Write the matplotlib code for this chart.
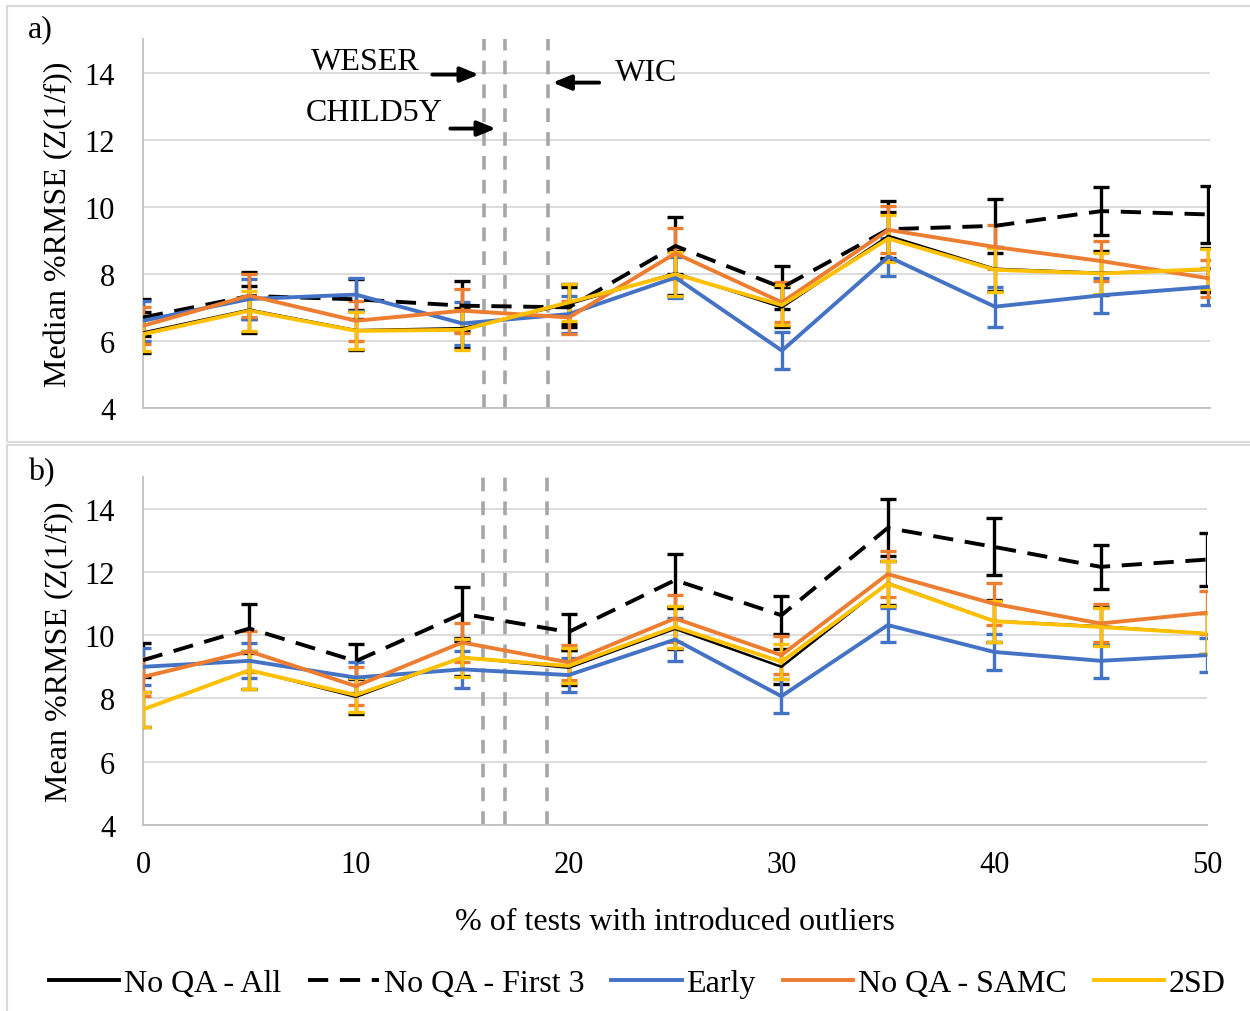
import matplotlib
matplotlib.use("Agg")
import matplotlib.pyplot as plt
from matplotlib.patches import Rectangle

plt.rcParams['font.family'] = ['Liberation Serif', 'DejaVu Serif']

outliers = [0, 5, 10, 15, 20, 25, 30, 35, 40, 45, 50]
series_names = ["No QA - All", "No QA - First 3", "Early", "No QA - SAMC", "2SD"]

# panel a: median %RMSE
med_all = [6.25, 6.93, 6.32, 6.38, 7.10, 8.02, 7.00, 9.13, 8.15, 8.03, 8.12]
med_all_err = [0.6, 0.7, 0.6, 0.6, 0.6, 0.65, 0.6, 0.7, 0.65, 0.65, 0.65]
med_first3 = [6.70, 7.34, 7.24, 7.05, 7.00, 8.83, 7.59, 9.33, 9.43, 9.87, 9.77]
med_first3_err = [0.55, 0.7, 0.6, 0.75, 0.6, 0.85, 0.63, 0.85, 0.8, 0.72, 0.84]
med_early = [6.60, 7.25, 7.38, 6.52, 6.80, 7.89, 5.71, 8.51, 7.02, 7.36, 7.61]
med_early_err = [0.6, 0.6, 0.5, 0.65, 0.55, 0.6, 0.55, 0.57, 0.6, 0.53, 0.55]
med_samc = [6.45, 7.35, 6.60, 6.90, 6.70, 8.61, 7.15, 9.31, 8.80, 8.38, 7.87]
med_samc_err = [0.55, 0.65, 0.6, 0.65, 0.5, 0.75, 0.6, 0.7, 0.65, 0.6, 0.55]
med_2sd = [6.20, 6.90, 6.30, 6.33, 7.15, 7.99, 7.07, 9.05, 8.12, 8.01, 8.14]
med_2sd_err = [0.5, 0.6, 0.55, 0.6, 0.55, 0.65, 0.6, 0.7, 0.65, 0.6, 0.6]

# panel b: mean %RMSE
mean_all = [7.65, 8.90, 8.05, 9.30, 8.97, 10.20, 9.00, 11.65, 10.45, 10.28, 10.05]
mean_all_err = [0.55, 0.6, 0.55, 0.6, 0.55, 0.65, 0.55, 0.7, 0.65, 0.6, 0.65]
mean_first3 = [9.21, 10.21, 9.18, 10.68, 10.10, 11.74, 10.63, 13.39, 12.79, 12.16, 12.39]
mean_first3_err = [0.53, 0.76, 0.54, 0.85, 0.58, 0.84, 0.6, 0.9, 0.9, 0.7, 0.84]
mean_early = [9.00, 9.19, 8.66, 8.92, 8.74, 9.86, 8.07, 10.32, 9.47, 9.19, 9.37]
mean_early_err = [0.58, 0.55, 0.5, 0.58, 0.53, 0.68, 0.54, 0.55, 0.57, 0.54, 0.53]
mean_samc = [8.68, 9.49, 8.39, 9.77, 9.14, 10.53, 9.37, 11.93, 10.99, 10.37, 10.71]
mean_samc_err = [0.6, 0.64, 0.6, 0.63, 0.55, 0.73, 0.6, 0.72, 0.66, 0.6, 0.68]
mean_2sd = [7.65, 8.89, 8.11, 9.29, 9.03, 10.26, 9.16, 11.63, 10.44, 10.26, 10.05]
mean_2sd_err = [0.55, 0.6, 0.55, 0.6, 0.55, 0.65, 0.55, 0.7, 0.65, 0.6, 0.65]

# survey outlier rates marked by dashed lines
markers_x = [16, 17, 19]

styles = [
    dict(color="black", lw=1.8, ls="-"),
    dict(color="black", lw=2.8, ls=(0, (5.2, 3.0))),
    dict(color="#4472C4", lw=2.8, ls="-"),
    dict(color="#ED7D31", lw=2.8, ls="-"),
    dict(color="#FFC000", lw=2.8, ls="-"),
]

FS = 23
TICK_FS = 22
W, H = 1250, 1012
fig = plt.figure(figsize=(W / 100, H / 100), dpi=100)

# light frames around the two panels
fig.add_artist(Rectangle((7 / W, 1 - 443 / H), 1.2, 436 / H, transform=fig.transFigure,
                         fill=False, ec="#D9D9D9", lw=1.5))
fig.add_artist(Rectangle((7 / W, -0.1), 1.2, 0.1 + 1 - 446 / H, transform=fig.transFigure,
                         fill=False, ec="#D9D9D9", lw=1.5))

ax_a = fig.add_axes([143 / W, 1 - 409 / H, (1210 - 143) / W, (409 - 40) / H])
ax_b = fig.add_axes([143 / W, 1 - 826 / H, (1207 - 143) / W, (826 - 478) / H])


def draw_panel(ax, data, xmax):
    handles = []
    for (vals, errs), st in zip(data, styles):
        ax.errorbar(outliers, vals, yerr=errs, fmt="none", ecolor=st["color"],
                    elinewidth=2.4, capsize=6, capthick=2.4, zorder=3)
        h, = ax.plot(outliers, vals, color=st["color"], lw=st["lw"], ls=st["ls"],
                     zorder=4, solid_joinstyle="miter")
        handles.append(h)
    for mx in markers_x:
        ax.axvline(mx, color="#A6A6A6", lw=2.6, ls=(0, (3.8, 2.8)), zorder=2)
    ax.set_xlim(0, xmax)
    ax.set_ylim(4, 15)
    ax.set_yticks([4, 6, 8, 10, 12, 14])
    ax.grid(axis="y", color="#D9D9D9", lw=1.3)
    ax.set_axisbelow(True)
    for s in ["top", "right"]:
        ax.spines[s].set_visible(False)
    ax.spines["left"].set_color("#BFBFBF")
    ax.spines["bottom"].set_color("#BFBFBF")
    ax.spines["left"].set_linewidth(1.3)
    ax.spines["bottom"].set_linewidth(1.3)
    ax.tick_params(length=0, labelsize=TICK_FS)
    ax.tick_params(axis="y", pad=20)
    ax.tick_params(axis="x", pad=18)
    return handles


handles = draw_panel(ax_a, [(med_all, med_all_err), (med_first3, med_first3_err),
                            (med_early, med_early_err), (med_samc, med_samc_err),
                            (med_2sd, med_2sd_err)], 50.1)
ax_a.set_xticks([])
ax_a.set_ylabel("Median %RMSE (Z(1/f))", fontsize=FS, labelpad=8)

draw_panel(ax_b, [(mean_all, mean_all_err), (mean_first3, mean_first3_err),
                  (mean_early, mean_early_err), (mean_samc, mean_samc_err),
                  (mean_2sd, mean_2sd_err)], 50)
ax_b.set_xticks([0, 10, 20, 30, 40, 50])
ax_b.set_ylabel("Mean %RMSE (Z(1/f))", fontsize=FS, labelpad=8)
ax_b.set_xlabel("% of tests with introduced outliers", fontsize=FS, labelpad=20)

# annotations for survey rates
arrow = dict(arrowstyle="-|>,head_length=1.1,head_width=0.45", color="black", lw=2.8)
ax_a.annotate("", xy=(15.9, 13.94), xytext=(13.45, 13.94), arrowprops=arrow)
ax_a.text(13.0, 14.33, "WESER", fontsize=FS, ha="right", va="center")
ax_a.annotate("", xy=(16.7, 12.33), xytext=(14.3, 12.33), arrowprops=arrow)
ax_a.text(14.08, 12.81, "CHILD5Y", fontsize=FS, ha="right", va="center")
ax_a.annotate("", xy=(19.1, 13.7), xytext=(21.55, 13.7), arrowprops=arrow)
ax_a.text(22.15, 14.0, "WIC", fontsize=FS, ha="left", va="center")

fig.text(28 / W, 1 - 30 / H, "a)", fontsize=FS, va="center")
fig.text(28 / W, 1 - 473 / H, "b)", fontsize=FS, va="center")

leg = fig.legend(handles, series_names, loc="center", bbox_to_anchor=(0.51, 1 - 984 / H),
                 ncol=5, frameon=False, fontsize=FS, handlelength=2.2, handletextpad=0.15,
                 columnspacing=0.85, borderaxespad=0)
leg.legend_handles[0].set_linewidth(2.8)

fig.savefig("out.png", dpi=100)
